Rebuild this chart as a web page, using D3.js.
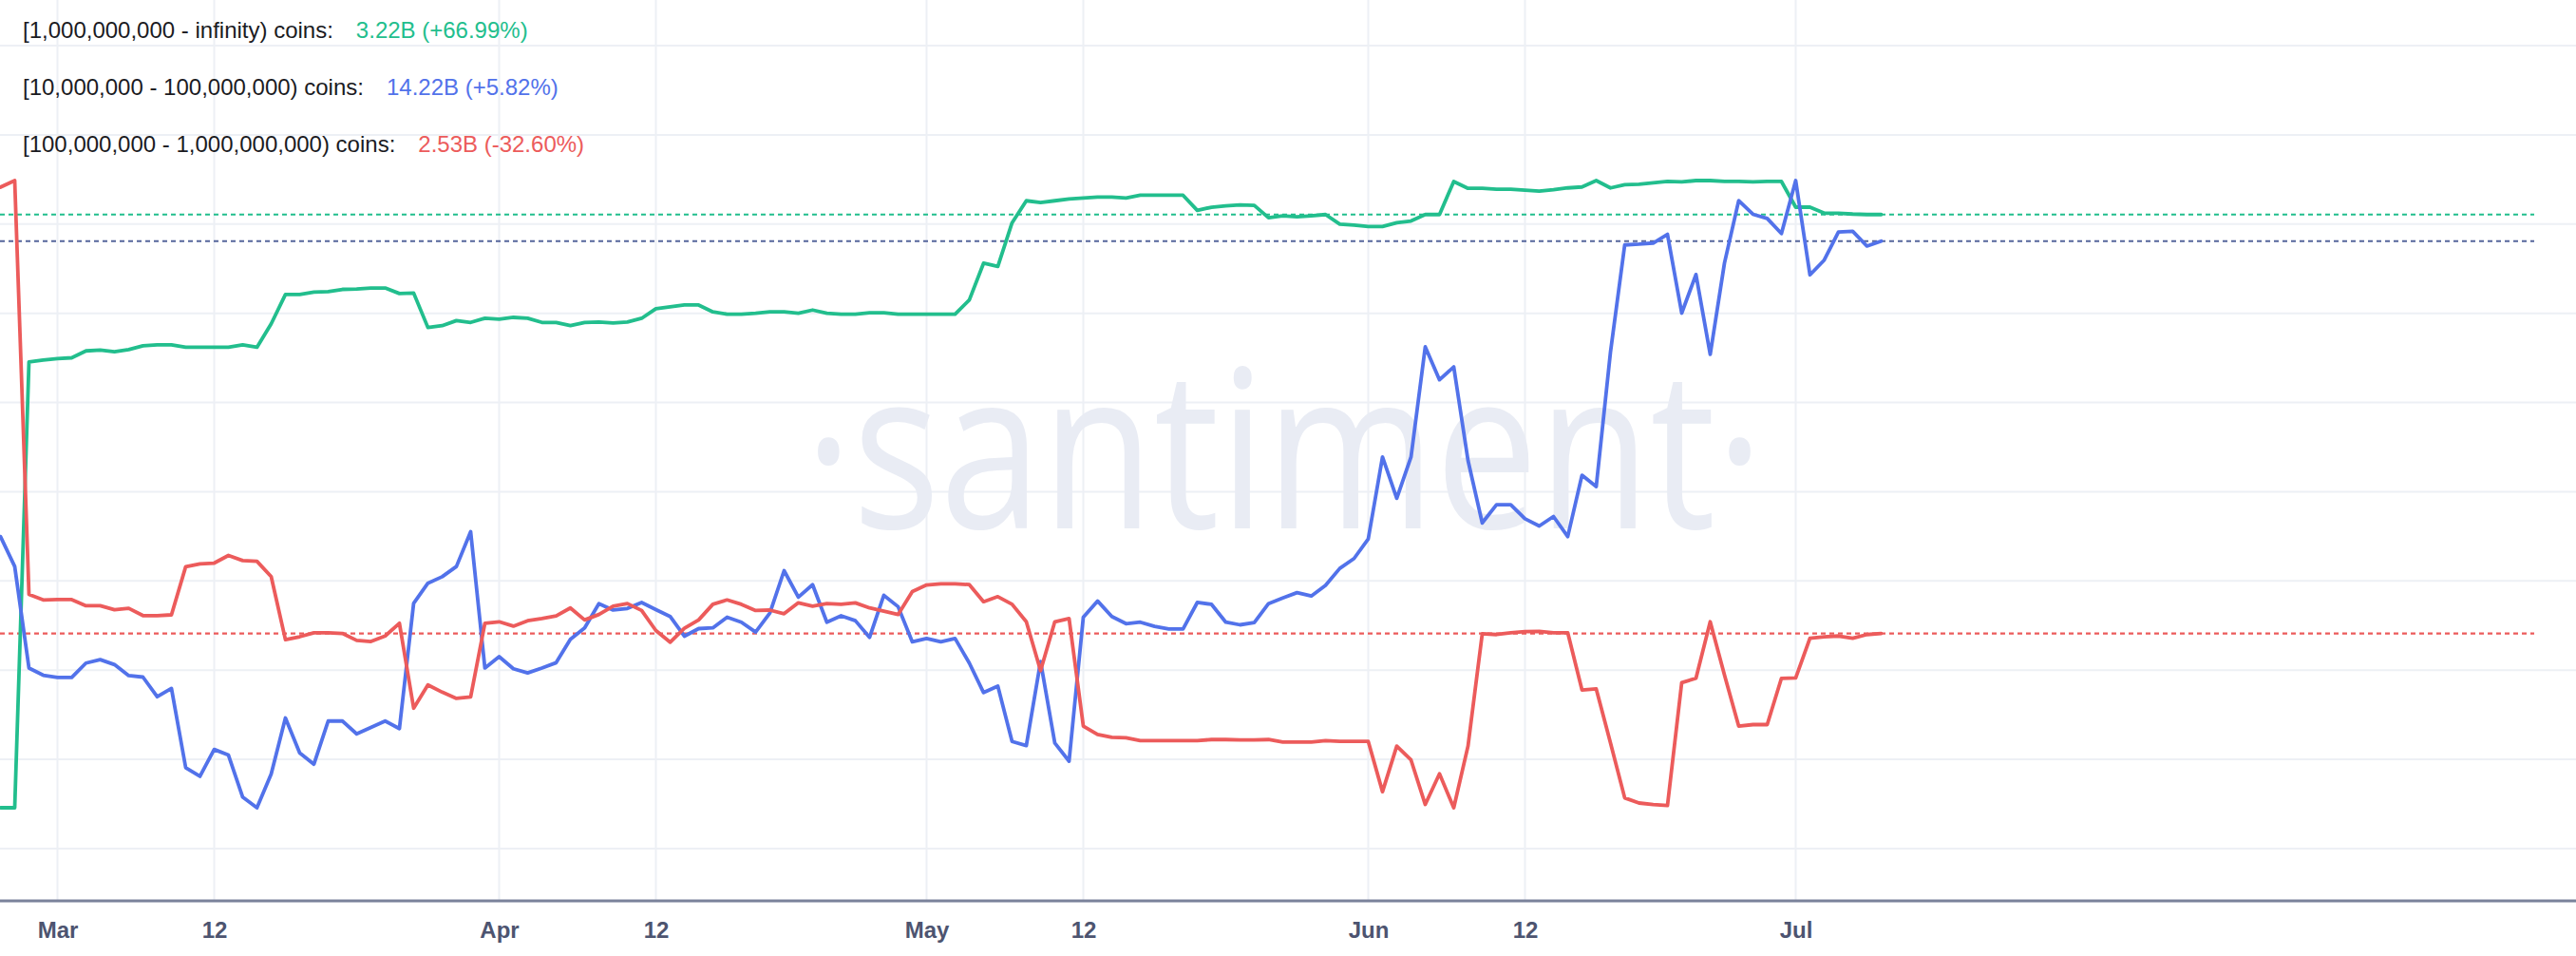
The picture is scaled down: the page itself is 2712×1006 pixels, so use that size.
<!DOCTYPE html>
<meta charset="utf-8">

<script src="https://d3js.org/d3.v7.min.js"></script>

<style>
    body {
        margin: 0;
        background: #fff;
    }

    .grid line {
        stroke: #edf0f5;
        stroke-width: 2;
    }

    .watermark {
        font-family: "Open Sans", sans-serif;
        font-size: 232px;
        fill: #e9ecf4;
    }

    .legend text {
        font-family: "Liberation Sans", Arial, sans-serif;
        font-size: 24px;
        fill: #1b1b1f;
    }

    .axis text {
        font-family: "Liberation Sans", Arial, sans-serif;
        font-size: 24px;
        font-weight: bold;
        fill: #4d5470;
    }

    .axis-line {
        stroke: #7a829b;
        stroke-width: 3;
    }

    .series {
        fill: none;
        stroke-width: 3.8;
        stroke-linejoin: round;
        stroke-linecap: round;
    }

    .last-value {
        stroke-width: 2.2;
        stroke-dasharray: 5, 4;
    }
</style>

<body>
    <svg class="chart"></svg>

    <script>
        ///////////////////////
        // Data (billions of coins held per holder group, daily)
        var startDate = "2023-02-25";

        var tickDates = ["2023-03-01", "2023-03-12", "2023-04-01", "2023-04-12", "2023-05-01",
            "2023-05-12", "2023-06-01", "2023-06-12", "2023-07-01"];
        var tickLabels = ["Mar", "12", "Apr", "12", "May", "12", "Jun", "12", "Jul"];

        var seriesLabels = [
            "[1,000,000,000 - infinity) coins:",
            "[10,000,000 - 100,000,000) coins:",
            "[100,000,000 - 1,000,000,000) coins:"
        ];
        var seriesSummaries = ["3.22B (+66.99%)", "14.22B (+5.82%)", "2.53B (-32.60%)"];

        // [1,000,000,000 - infinity)
        var holders1B = [
            1.928, 1.928, 2.899, 2.903, 2.906, 2.908, 2.923, 2.925, 2.921, 2.926, 2.934, 2.936, 2.936, 2.931, 2.931, 2.931, 2.931, 2.936, 2.931, 2.982, 3.046, 3.046, 3.051,
            3.052, 3.057, 3.058, 3.060, 3.060, 3.048, 3.049, 2.974, 2.978, 2.989, 2.985, 2.994, 2.992, 2.996, 2.994, 2.985, 2.985, 2.978, 2.985, 2.986, 2.984, 2.986,
            2.994, 3.015, 3.019, 3.023, 3.023, 3.008, 3.003, 3.003, 3.005, 3.008, 3.008, 3.005, 3.012, 3.005, 3.003, 3.003, 3.006, 3.006, 3.003, 3.003, 3.003, 3.003,
            3.003, 3.034, 3.114, 3.107, 3.202, 3.250, 3.246, 3.250, 3.254, 3.256, 3.258, 3.258, 3.256, 3.262, 3.262, 3.262, 3.262, 3.229, 3.236, 3.239, 3.241, 3.240,
            3.213, 3.217, 3.215, 3.217, 3.220, 3.199, 3.197, 3.194, 3.194, 3.202, 3.206, 3.220, 3.220, 3.292, 3.277, 3.277, 3.275, 3.275, 3.273, 3.271, 3.274, 3.278,
            3.280, 3.294, 3.278, 3.285, 3.286, 3.289, 3.292, 3.291, 3.294, 3.294, 3.292, 3.292, 3.291, 3.292, 3.292, 3.236, 3.236, 3.223, 3.223, 3.221, 3.220, 3.220
        ];

        // [10,000,000 - 100,000,000)
        var holders10M = [
            13.440, 13.361, 13.093, 13.074, 13.068, 13.068, 13.106, 13.115, 13.102, 13.073, 13.069, 13.017, 13.039, 12.830, 12.807, 12.878, 12.863, 12.752, 12.724, 12.813, 12.961, 12.869, 12.839,
            12.953, 12.953, 12.919, 12.936, 12.953, 12.933, 13.264, 13.317, 13.334, 13.361, 13.453, 13.093, 13.123, 13.091, 13.080, 13.093, 13.107, 13.169, 13.199, 13.263, 13.246, 13.250,
            13.266, 13.247, 13.229, 13.177, 13.197, 13.199, 13.227, 13.214, 13.188, 13.238, 13.350, 13.280, 13.313, 13.214, 13.231, 13.218, 13.174, 13.285, 13.255, 13.162, 13.171, 13.162,
            13.171, 13.106, 13.028, 13.045, 12.899, 12.888, 13.110, 12.895, 12.847, 13.227, 13.270, 13.229, 13.210, 13.214, 13.203, 13.196, 13.196, 13.266, 13.261, 13.214, 13.207, 13.213,
            13.263, 13.278, 13.292, 13.283, 13.311, 13.356, 13.382, 13.434, 13.650, 13.541, 13.650, 13.941, 13.854, 13.888, 13.641, 13.476, 13.524, 13.524, 13.487, 13.468, 13.493, 13.440,
            13.602, 13.572, 13.927, 14.210, 14.212, 14.215, 14.238, 14.030, 14.132, 13.921, 14.162, 14.327, 14.291, 14.280, 14.240, 14.380, 14.131, 14.170, 14.244, 14.246, 14.207, 14.220
        ];

        // [100,000,000 - 1,000,000,000)
        var holders100M = [
            3.754, 3.772, 2.637, 2.622, 2.623, 2.623, 2.606, 2.606, 2.595, 2.599, 2.579, 2.579, 2.581, 2.713, 2.721, 2.723, 2.744, 2.730, 2.728, 2.686, 2.513, 2.521, 2.532,
            2.532, 2.530, 2.511, 2.508, 2.523, 2.558, 2.325, 2.389, 2.369, 2.352, 2.356, 2.558, 2.562, 2.550, 2.565, 2.571, 2.578, 2.600, 2.567, 2.582, 2.605, 2.612,
            2.593, 2.538, 2.506, 2.544, 2.567, 2.610, 2.622, 2.610, 2.593, 2.594, 2.584, 2.614, 2.605, 2.612, 2.610, 2.614, 2.600, 2.591, 2.582, 2.645, 2.663, 2.666,
            2.666, 2.664, 2.617, 2.631, 2.610, 2.562, 2.428, 2.562, 2.571, 2.276, 2.253, 2.245, 2.244, 2.236, 2.236, 2.236, 2.236, 2.236, 2.239, 2.239, 2.238, 2.238,
            2.239, 2.232, 2.232, 2.232, 2.236, 2.234, 2.234, 2.234, 2.096, 2.221, 2.183, 2.061, 2.145, 2.052, 2.221, 2.529, 2.527, 2.532, 2.535, 2.536, 2.532, 2.532,
            2.375, 2.378, 2.230, 2.079, 2.065, 2.061, 2.058, 2.395, 2.407, 2.562, 2.416, 2.276, 2.280, 2.280, 2.407, 2.408, 2.517, 2.521, 2.523, 2.517, 2.527, 2.530
        ];

        var colors = ["#22be8d", "#5272ea", "#ec5b5b"];
        var lastLineColors = ["#22be8d", "#56669c", "#ec5b5b"];

        ///////////////////////
        // Chart Size Setup
        var width = 2712;
        var height = 1006;
        var axisY = 948;

        var chart = d3.select(".chart")
            .attr("width", width)
            .attr("height", height);

        var parse = d3.utcParse("%Y-%m-%d");
        var start = parse(startDate);

        var series = [holders1B, holders10M, holders100M].map(function(values, i) {
            return {
                color: colors[i],
                lastColor: lastLineColors[i],
                points: values.map(function(v, j) {
                    return { date: d3.utcDay.offset(start, j), value: v };
                })
            };
        });

        ///////////////////////
        // Scales
        var lastDate = series[0].points[series[0].points.length - 1].date;

        var x = d3.scaleUtc()
            .domain([start, lastDate])
            .range([0.5, 1980.5]);

        // every metric gets its own y scale, like the original
        series.forEach(function(s) {
            s.y = d3.scaleLinear()
                .domain(d3.extent(s.points, function(d) { return d.value; }))
                .range([850, 190]);
        });

        var gridY = d3.scaleLinear().domain([0, 9]).range([893, 48]);

        ///////////////////////
        // Grid
        var grid = chart.append("g").attr("class", "grid");

        grid.selectAll("line.h")
            .data(d3.range(0, 10))
            .enter().append("line")
            .attr("class", "h")
            .attr("x1", 0)
            .attr("x2", width)
            .attr("y1", function(d) { return gridY(d); })
            .attr("y2", function(d) { return gridY(d); });

        grid.selectAll("line.v")
            .data(tickDates.map(parse))
            .enter().append("line")
            .attr("class", "v")
            .attr("x1", function(d) { return x(d); })
            .attr("x2", function(d) { return x(d); })
            .attr("y1", 0)
            .attr("y2", axisY);

        ///////////////////////
        // Watermark
        chart.append("text")
            .attr("class", "watermark")
            .attr("x", 1352)
            .attr("y", 556)
            .attr("text-anchor", "middle")
            .attr("textLength", 1010)
            .attr("lengthAdjust", "spacingAndGlyphs")
            .text("\u00b7santiment\u00b7");

        ///////////////////////
        // Last value reference lines
        chart.append("g")
            .selectAll("line")
            .data(series)
            .enter().append("line")
            .attr("class", "last-value")
            .attr("x1", 0)
            .attr("x2", 2668)
            .attr("y1", function(s) { return s.y(s.points[s.points.length - 1].value); })
            .attr("y2", function(s) { return s.y(s.points[s.points.length - 1].value); })
            .attr("stroke", function(s) { return s.lastColor; });

        ///////////////////////
        // Lines
        series.forEach(function(s) {
            var line = d3.line()
                .x(function(d) { return x(d.date); })
                .y(function(d) { return s.y(d.value); });

            chart.append("path")
                .datum(s.points)
                .attr("class", "series")
                .attr("stroke", s.color)
                .attr("d", line);
        });

        ///////////////////////
        // Axis
        chart.append("line")
            .attr("class", "axis-line")
            .attr("x1", 0)
            .attr("x2", width)
            .attr("y1", axisY)
            .attr("y2", axisY);

        var xAxis = d3.axisBottom(x)
            .tickValues(tickDates.map(parse))
            .tickFormat(function(d, i) { return tickLabels[i]; })
            .tickSize(0)
            .tickPadding(22);

        chart.append("g")
            .attr("class", "axis")
            .attr("transform", "translate(0," + axisY + ")")
            .call(xAxis)
            .call(function(g) { g.select(".domain").remove(); });

        ///////////////////////
        // Legend
        var legend = chart.append("g").attr("class", "legend");

        seriesLabels.forEach(function(label, i) {
            var t = legend.append("text")
                .attr("x", 24)
                .attr("y", 40 + i * 60);
            t.append("tspan").text(label);
            t.append("tspan")
                .attr("dx", 24)
                .style("fill", colors[i])
                .text(seriesSummaries[i]);
        });
    </script>
</body>
